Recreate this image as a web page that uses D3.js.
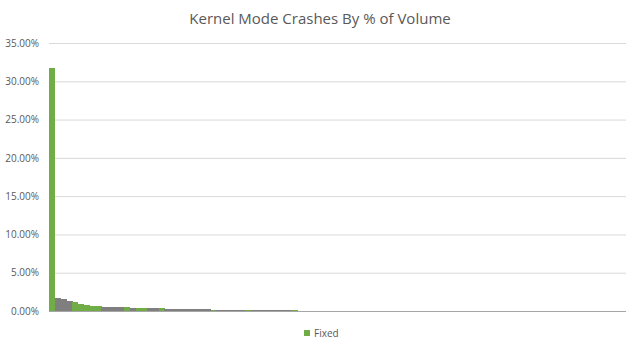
<!DOCTYPE html>
<html>
<head>
<meta charset="utf-8">
<script src="https://cdn.jsdelivr.net/npm/d3@7"></script>
<style>
  body { margin: 0; background: #fff; }
  text { font-family: "Open Sans", "Noto Sans", sans-serif; }
</style>
</head>
<body>
<div id="chart"></div>
<script>
// values in %, one per crash bucket (sorted by volume)
var crashPct = [
  31.7, 1.65, 1.6, 1.25, 1.15, 0.88, 0.72, 0.70, 0.68, 0.52,
  0.50, 0.50, 0.48, 0.47, 0.45, 0.40, 0.38, 0.36, 0.35, 0.33,
  0.25, 0.24, 0.23, 0.22, 0.22, 0.21, 0.20, 0.20, 0.15, 0.15,
  0.14, 0.14, 0.13, 0.13, 0.12, 0.12, 0.12, 0.11, 0.11, 0.11,
  0.10, 0.10, 0.09, 0.06, 0.06, 0.05, 0.05, 0.05, 0.05, 0.05,
  0.04, 0.04, 0.04, 0.04, 0.04, 0.04, 0.04, 0.04, 0.04, 0.04,
  0.04, 0.03, 0.03, 0.03, 0.03, 0.03, 0.03, 0.03, 0.03, 0.03,
  0.03, 0.03, 0.03, 0.03, 0.03, 0.03, 0.03, 0.03, 0.03, 0.03,
  0.03, 0.03, 0.02, 0.02, 0.02, 0.02, 0.02, 0.02, 0.02, 0.02,
  0.02, 0.02, 0.02, 0.02, 0.02, 0.02, 0.02, 0.02, 0.02, 0.02
];
// 1 = fixed (green), 0 = not fixed (gray)
var fixedFlag = [
  1, 0, 0, 0, 1, 1, 1, 1, 1, 0,
  0, 0, 0, 1, 0, 1, 1, 0, 0, 1,
  0, 0, 0, 0, 0, 0, 0, 0, 1, 0,
  0, 0, 0, 0, 1, 0, 0, 0, 0, 0,
  0, 0, 1, 0, 0, 0, 0, 0, 0, 0,
  0, 0, 0, 0, 0, 0, 0, 0, 0, 0,
  0, 1, 0, 0, 1, 0, 0, 0, 0, 0,
  0, 1, 0, 0, 1, 0, 0, 0, 0, 0,
  0, 0, 0, 0, 0, 0, 1, 0, 0, 1,
  0, 0, 0, 0, 0, 0, 0, 0, 0, 0
];
var yTicks = [0, 5, 10, 15, 20, 25, 30, 35];
var legendLabels = ["Fixed"];

var width = 640, height = 352;
var margin = {top: 43, right: 14, bottom: 41, left: 49};
var plotW = width - margin.left - margin.right,
    plotH = height - margin.top - margin.bottom;

var svg = d3.select("#chart").append("svg")
  .attr("width", width)
  .attr("height", height);

svg.append("text")
  .attr("x", width / 2)
  .attr("y", 24)
  .attr("text-anchor", "middle")
  .attr("font-size", "15px")
  .attr("fill", "#595959")
  .text("Kernel Mode Crashes By % of Volume");

var g = svg.append("g")
  .attr("transform", "translate(" + margin.left + "," + margin.top + ")");

var x = d3.scaleBand()
  .domain(d3.range(crashPct.length))
  .range([0, plotW])
  .padding(0);

var y = d3.scaleLinear()
  .domain([0, 35])
  .range([plotH, 0]);

// gridlines + labels
var yAxis = g.append("g")
  .call(d3.axisLeft(y).tickValues(yTicks).tickSize(-plotW)
    .tickFormat(function(d) { return d.toFixed(2) + "%"; }));
yAxis.select(".domain").remove();
yAxis.selectAll("line").attr("stroke", "#d9d9d9");
yAxis.selectAll("text")
  .attr("x", -10)
  .attr("fill", "#595959")
  .attr("font-size", "10px");

g.selectAll(".bar")
  .data(crashPct)
  .enter()
  .append("rect")
    .attr("class", "bar")
    .attr("x", function(d, i) { return x(i); })
    .attr("y", function(d) { return y(d); })
    .attr("width", x.bandwidth() + 0.6)
    .attr("height", function(d) { return plotH - y(d); })
    .attr("shape-rendering", "crispEdges")
    .attr("fill", function(d, i) { return fixedFlag[i] ? "#70ad47" : "#7f7f7f"; });

// x axis baseline
g.append("line")
  .attr("x1", 0).attr("x2", plotW)
  .attr("y1", plotH + 0.5).attr("y2", plotH + 0.5)
  .attr("stroke", "#a6a6a6");

// legend
var leg = svg.append("g").attr("transform", "translate(304,330)");
leg.append("rect")
  .attr("width", 6).attr("height", 6)
  .attr("fill", "#70ad47");
leg.append("text")
  .attr("x", 10).attr("y", 7)
  .attr("font-size", "10px")
  .attr("fill", "#595959")
  .text(legendLabels[0]);
</script>
</body>
</html>
